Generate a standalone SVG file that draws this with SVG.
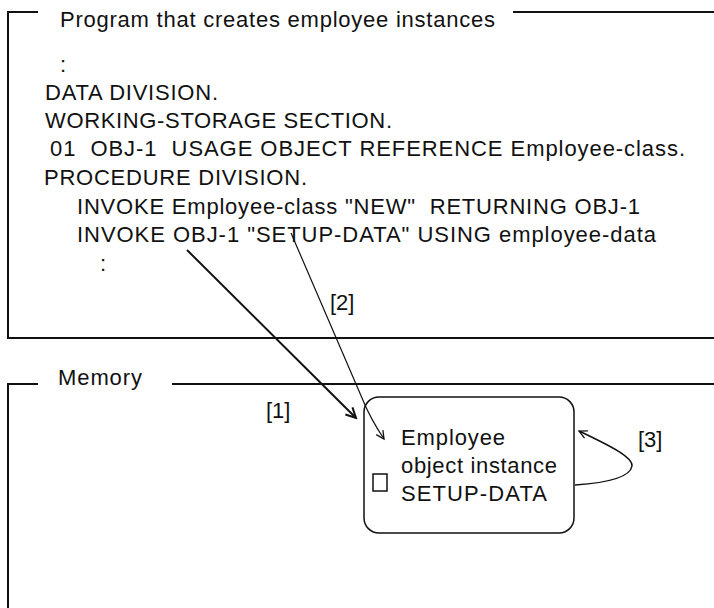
<svg xmlns="http://www.w3.org/2000/svg" width="714" height="608" viewBox="0 0 714 608">
<style>
.t{font-family:"Liberation Sans",Arial,sans-serif;font-size:22px;fill:#111}
.frame{fill:none;stroke:#111;stroke-width:2}
.box{fill:#fff;stroke:#111;stroke-width:1.5}
.c{fill:none;stroke:#111}
</style>
<defs>
<marker id="ah" viewBox="-12 -7 14 14" markerWidth="14" markerHeight="14" refX="0" refY="0" orient="auto" markerUnits="userSpaceOnUse">
<path d="M-10,-5 L0,0 L-10,5" fill="none" stroke="#111" stroke-width="2"/>
</marker>
<marker id="ahs" viewBox="-10 -6 12 12" markerWidth="12" markerHeight="12" refX="0" refY="0" orient="auto" markerUnits="userSpaceOnUse">
<path d="M-8,-4 L0,0 L-8,4" fill="none" stroke="#111" stroke-width="1.3"/>
</marker>
</defs>
<rect width="714" height="608" fill="#fff"/>
<g id="program">
<path class="frame" d="M38,12 H8 V338 H714 M513,12 H714"/>
<text class="t" x="60" y="27" textLength="435">Program that creates employee instances</text>
<text class="t" x="60" y="72">:</text>
<text class="t" x="45" y="100" textLength="173">DATA DIVISION.</text>
<text class="t" x="45" y="128" textLength="347">WORKING-STORAGE SECTION.</text>
<text class="t" x="50" y="156" textLength="635" xml:space="preserve">01  OBJ-1  USAGE OBJECT REFERENCE Employee-class.</text>
<text class="t" x="44" y="185" textLength="263">PROCEDURE DIVISION.</text>
<text class="t" x="77" y="214" textLength="563" xml:space="preserve">INVOKE Employee-class "NEW"  RETURNING OBJ-1</text>
<text class="t" x="77" y="242" textLength="579">INVOKE OBJ-1 "SETUP-DATA" USING employee-data</text>
<text class="t" x="100" y="271">:</text>
</g>
<g id="memory">
<path class="frame" d="M38,384 H8 V608 M172,384 H714"/>
<text class="t" x="58" y="385" textLength="84">Memory</text>
</g>
<g id="employee-instance">
<rect class="box" x="364" y="397" width="210" height="136" rx="15" ry="15"/>
<rect x="373" y="474" width="14" height="17" fill="none" stroke="#111" stroke-width="1.5"/>
<text class="t" x="401" y="445" textLength="104">Employee</text>
<text class="t" x="401" y="473" textLength="156">object instance</text>
<text class="t" x="401" y="501" textLength="146">SETUP-DATA</text>
</g>
<g id="connectors">
<path class="c" stroke-width="2" d="M187,250 L356,418" marker-end="url(#ah)"/>
<path class="c" stroke-width="1.2" d="M291,233 L362,398 Q370,418 384,439" marker-end="url(#ahs)"/>
<path class="c" stroke-width="1.5" d="M575,485 C605,483 630,478 632,466 C633,458 615,448 579,431" marker-end="url(#ahs)"/>
<text class="t" x="330" y="310">[2]</text>
<text class="t" x="266" y="418">[1]</text>
<text class="t" x="638" y="447">[3]</text>
</g>
</svg>
